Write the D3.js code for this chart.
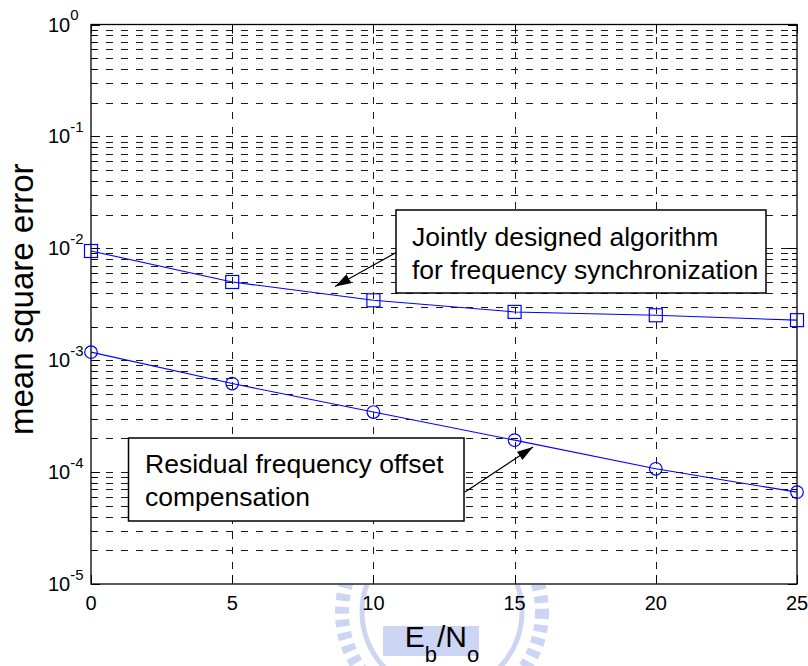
<!DOCTYPE html>
<html>
<head>
<meta charset="utf-8">
<script src="https://cdn.jsdelivr.net/npm/d3@7"></script>
<style>
  body { margin: 0; background: #fff; }
  svg { display: block; font-family: Arial, "Liberation Sans", sans-serif; }
</style>
</head>
<body>
<div id="chart"></div>
<script>
// Eb/No in dB
var snr = [0, 5, 10, 15, 20, 25];
// mean square error, jointly designed algorithm (squares)
var mseJoint = [0.00946, 0.0050, 0.00343, 0.0027, 0.00252, 0.00228];
// mean square error, residual frequency offset compensation (circles)
var mseResidual = [0.00118, 0.000618, 0.000344, 0.000193, 0.000107, 0.0000662];

var xTicks = [0, 5, 10, 15, 20, 25];
var yTickExps = [0, -1, -2, -3, -4, -5];

var width = 808,
  height = 666;

var margin = {
  top: 24.5,
  right: 11,
  bottom: 82,
  left: 91
};

var svg = d3.select("#chart")
  .append("svg")
  .attr("width", width)
  .attr("height", height);

var x = d3.scaleLinear()
  .domain([0, 25])
  .range([margin.left, width - margin.right]);

var y = d3.scaleLog()
  .domain([1e-5, 1])
  .range([height - margin.bottom, margin.top]);

var x0 = x.range()[0], x1 = x.range()[1];
var y0 = y.range()[0], y1 = y.range()[1];

// faint watermark emblem below the axes (shapes only)
var wm = svg.append("g").attr("class", "watermark");
wm.append("clipPath").attr("id", "below")
  .append("rect").attr("x", 0).attr("y", y0 + 1).attr("width", width).attr("height", height - y0);
var emb = wm.append("g").attr("clip-path", "url(#below)").style("opacity", 0.45);
emb.append("circle")
  .attr("cx", 442).attr("cy", 612).attr("r", 100)
  .attr("fill", "none").attr("stroke", "#8fa3e6")
  .attr("stroke-width", 14).attr("stroke-dasharray", "7,6");
emb.append("circle")
  .attr("cx", 442).attr("cy", 612).attr("r", 80)
  .attr("fill", "none").attr("stroke", "#8fa3e6").attr("stroke-width", 5);
emb.append("rect")
  .attr("x", 383).attr("y", 626).attr("width", 96).attr("height", 30)
  .attr("fill", "#8fa3e6");

// grid
var grid = svg.append("g").attr("class", "grid")
  .attr("stroke", "#1a1a1a")
  .attr("stroke-width", 1)
  .attr("stroke-dasharray", "7,8");

grid.selectAll("line.h")
  .data(y.ticks().filter(function(d) { return d < 1 && d > 1e-5; }))
  .enter().append("line")
  .attr("class", "h")
  .attr("x1", x0).attr("x2", x1)
  .attr("y1", function(d) { return Math.round(y(d)) + 0.5; })
  .attr("y2", function(d) { return Math.round(y(d)) + 0.5; });

grid.selectAll("line.v")
  .data(xTicks.slice(1, -1))
  .enter().append("line")
  .attr("class", "v")
  .attr("y1", y0).attr("y2", y1)
  .attr("x1", function(d) { return Math.round(x(d)) + 0.5; })
  .attr("x2", function(d) { return Math.round(x(d)) + 0.5; });

// ticks on all four sides, pointing inward
var ticks = svg.append("g").attr("stroke", "#000").attr("stroke-width", 1);
y.ticks().forEach(function(d) {
  var major = Math.abs(Math.log10(d) - Math.round(Math.log10(d))) < 1e-9;
  var len = major ? 9 : 5;
  var yy = Math.round(y(d)) + 0.5;
  ticks.append("line").attr("x1", x0).attr("x2", x0 + len).attr("y1", yy).attr("y2", yy);
  ticks.append("line").attr("x1", x1).attr("x2", x1 - len).attr("y1", yy).attr("y2", yy);
});
xTicks.forEach(function(d) {
  var xx = Math.round(x(d)) + 0.5;
  ticks.append("line").attr("x1", xx).attr("x2", xx).attr("y1", y0).attr("y2", y0 - 9);
  ticks.append("line").attr("x1", xx).attr("x2", xx).attr("y1", y1).attr("y2", y1 + 9);
});

// axes box
svg.append("rect")
  .attr("x", x0).attr("y", y1)
  .attr("width", x1 - x0).attr("height", y0 - y1)
  .attr("fill", "none")
  .attr("stroke", "#000")
  .attr("stroke-width", 1.3);

// series
var line = d3.line()
  .x(function(d) { return x(d[0]); })
  .y(function(d) { return y(d[1]); });

var jointData = d3.zip(snr, mseJoint);
var residualData = d3.zip(snr, mseResidual);

svg.append("path")
  .datum(jointData)
  .attr("d", line)
  .attr("fill", "none")
  .attr("stroke", "#0000ff")
  .attr("stroke-width", 1.1);

svg.append("path")
  .datum(residualData)
  .attr("d", line)
  .attr("fill", "none")
  .attr("stroke", "#0000ff")
  .attr("stroke-width", 1.1);

var sq = 13;
svg.append("g").selectAll("rect")
  .data(jointData)
  .enter().append("rect")
  .attr("x", function(d) { return x(d[0]) - sq / 2; })
  .attr("y", function(d) { return y(d[1]) - sq / 2; })
  .attr("width", sq).attr("height", sq)
  .attr("fill", "none")
  .attr("stroke", "#0000ff")
  .attr("stroke-width", 1.2);

svg.append("g").selectAll("circle")
  .data(residualData)
  .enter().append("circle")
  .attr("cx", function(d) { return x(d[0]); })
  .attr("cy", function(d) { return y(d[1]); })
  .attr("r", 6.3)
  .attr("fill", "none")
  .attr("stroke", "#0000ff")
  .attr("stroke-width", 1.2);

// tick labels
svg.append("g").selectAll("text")
  .data(xTicks)
  .enter().append("text")
  .attr("x", function(d) { return x(d); })
  .attr("y", y0 + 26)
  .attr("text-anchor", "middle")
  .attr("font-size", 20)
  .text(function(d) { return d; });

var yl = svg.append("g").selectAll("text")
  .data(yTickExps)
  .enter().append("text")
  .attr("x", 48)
  .attr("y", function(d) { return y(Math.pow(10, d)) + 7; })
  .attr("font-size", 20);
yl.append("tspan").text("10");
yl.append("tspan")
  .attr("dy", -11.5)
  .attr("font-size", 15)
  .text(function(d) { return d; });

// axis labels
var xlab = svg.append("text")
  .attr("x", (x0 + x1) / 2 - 2)
  .attr("y", 647)
  .attr("text-anchor", "middle")
  .attr("font-size", 30);
xlab.append("tspan").text("E");
xlab.append("tspan").attr("font-size", 22).attr("dy", 15).text("b");
xlab.append("tspan").attr("dy", -15).text("/N");
xlab.append("tspan").attr("font-size", 22).attr("dy", 15).text("o");

svg.append("text")
  .attr("transform", "translate(33," + ((y0 + y1) / 2 - 5) + ") rotate(-90)")
  .attr("text-anchor", "middle")
  .attr("font-size", 33)
  .text("mean square error");

// annotations
svg.append("defs").append("marker")
  .attr("id", "head")
  .attr("viewBox", "0 0 16 10")
  .attr("refX", 16).attr("refY", 5)
  .attr("markerWidth", 16).attr("markerHeight", 10)
  .attr("markerUnits", "userSpaceOnUse")
  .attr("orient", "auto")
  .append("path")
  .attr("d", "M0,0 L16,5 L0,10 Z")
  .attr("fill", "#000");

function note(bx, by, bw, bh, lines, tx, ty, ax, ay, hx, hy) {
  svg.append("line")
    .attr("x1", ax).attr("y1", ay)
    .attr("x2", hx).attr("y2", hy)
    .attr("stroke", "#000")
    .attr("stroke-width", 1.2)
    .attr("marker-end", "url(#head)");
  svg.append("rect")
    .attr("x", bx).attr("y", by)
    .attr("width", bw).attr("height", bh)
    .attr("fill", "#fff")
    .attr("stroke", "#000")
    .attr("stroke-width", 1.5);
  svg.append("g").selectAll("text")
    .data(lines)
    .enter().append("text")
    .attr("x", tx)
    .attr("y", function(d, i) { return ty + i * 33; })
    .attr("font-size", 26.5)
    .text(function(d) { return d; });
}

note(396, 210, 370, 83,
  ["Jointly designed algorithm", "for frequency synchronization"],
  412, 245.5, 397, 252, 335, 286.5);

note(128.5, 438, 335.5, 83,
  ["Residual frequency offset", "compensation"],
  145, 472.5, 465, 492, 533, 447);
</script>
</body>
</html>
